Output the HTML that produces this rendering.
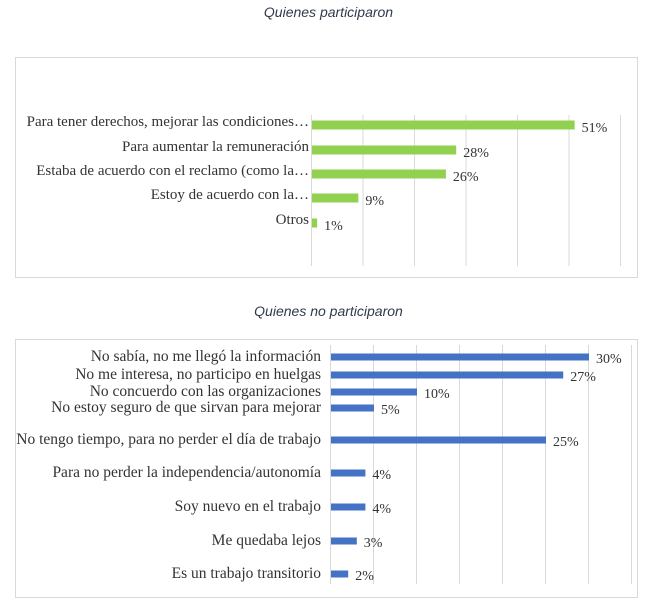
<!DOCTYPE html>
<html><head><meta charset="utf-8"><style>
body{margin:0;width:657px;height:603px;background:#fff;overflow:hidden;font-family:"Liberation Serif",serif}
.t{position:absolute;width:657px;text-align:center;font-family:"Liberation Sans",sans-serif;font-style:italic;font-size:14px;color:#2f3a4a}
svg{position:absolute;left:0;top:0}
</style></head><body>
<div class="t" style="top:4px">Quienes participaron</div>
<div class="t" style="top:303px">Quienes no participaron</div>
<svg id="s" width="657" height="603"></svg>
<script>
const cats1=["Para tener derechos, mejorar las condiciones…","Para aumentar la remuneración","Estaba de acuerdo con el reclamo (como la…","Estoy de acuerdo con la…","Otros"];
const vals1=[51,28,26,9,1];
const labels1=["51%","28%","26%","9%","1%"];
const cats2=["No sabía, no me llegó la información","No me interesa, no participo en huelgas","No concuerdo con las organizaciones","No estoy seguro de que sirvan para mejorar","No tengo tiempo, para no perder el día de trabajo","Para no perder la independencia/autonomía","Soy nuevo en el trabajo","Me quedaba lejos","Es un trabajo transitorio"];
const vals2=[30,27,10,5,25,4,4,3,2];
const labels2=["30%","27%","10%","5%","25%","4%","4%","3%","2%"];
const ticks1=[0,10,20,30,40,50,60];
const ticks2=[0,5,10,15,20,25,30,35];
const NS="http://www.w3.org/2000/svg",s=document.getElementById('s');
function el(t,a){const e=document.createElementNS(NS,t);for(const k in a)e.setAttribute(k,a[k]);s.appendChild(e);return e;}
function draw(cfg){
 const b=el('rect',{x:cfg.box[0]+.5,y:cfg.box[1]+.5,width:cfg.box[2],height:cfg.box[3],fill:'none',stroke:'#d9d9d9'});
 
 
 const x=v=>cfg.x0+v*cfg.sc;
 cfg.ticks.forEach(t=>{const l=el('line',{x1:x(t)+.5,x2:x(t)+.5,y1:cfg.gy[0],y2:cfg.gy[1],stroke:'#d9d9d9'});
  
  });
 cfg.cats.forEach((c,i)=>{const y=cfg.ys[i];
  const r=el('rect',{x:x(0)+1,y:y-cfg.bh/2,width:Math.max(cfg.vals[i]*cfg.sc,3),height:cfg.bh,fill:cfg.col});
  
  
  const tl=el('text',{x:x(0)-cfg.lg,y:y-cfg.ly,'text-anchor':'end','font-size':cfg.fs,fill:'#333'});tl.textContent=c;
  
  
  const vl=el('text',{x:x(cfg.vals[i])+8,y:y+5+cfg.vy,'font-size':14,fill:'#333'});vl.textContent=cfg.labels[i];
  
  });
}
draw({name:'participaron',box:[15,57,622,220],x0:311,sc:5.15,ticks:ticks1,gy:[115,266],cats:cats1,vals:vals1,labels:labels1,ys:[125,150,174,198,223],bh:9,col:'#92d050',lg:2,ly:-1,vy:2,fs:15});
draw({name:'no-participaron',box:[15,339,622,258],x0:330,sc:8.6,ticks:ticks2,gy:[345,584],cats:cats2,vals:vals2,labels:labels2,ys:[357,375,392,408,440,473,507,541,574],bh:7,col:'#4472c4',lg:9,ly:-4,vy:1,fs:15.5});
</script>
</body></html>
